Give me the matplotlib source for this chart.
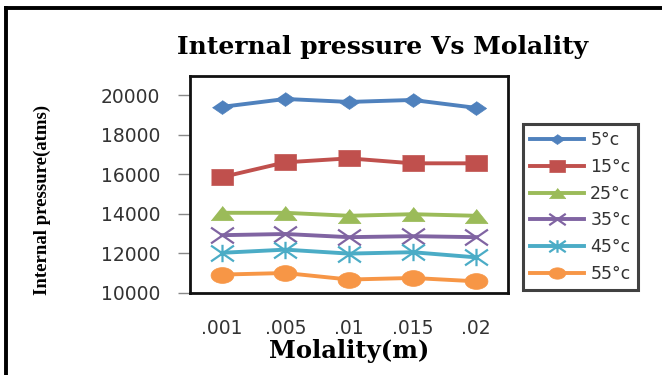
"""
Internal pressure of the solution against molality at six temperatures.
"""

import matplotlib
matplotlib.use('Agg')
import matplotlib.pyplot as plt
import numpy as np
from matplotlib.lines import Line2D
from matplotlib.path import Path

# Data
# ------------------------------------------------------------------------------

molality = ['.001', '.005', '.01', '.015', '.02']
temps = ['5°c', '15°c', '25°c', '35°c', '45°c', '55°c']

p_5 = [19400, 19800, 19650, 19750, 19350]
p_15 = [15850, 16600, 16800, 16550, 16550]
p_25 = [14050, 14050, 13900, 13980, 13900]
p_35 = [12920, 12980, 12820, 12870, 12820]
p_45 = [12030, 12190, 11990, 12060, 11800]
p_55 = [10930, 11010, 10680, 10760, 10590]

series = [p_5, p_15, p_25, p_35, p_45, p_55]

# Markers (the source picture is stretched sideways, so are the markers)
# ------------------------------------------------------------------------------

sx = 1.45
t = np.linspace(0, 2 * np.pi, 40)
diamond = [(0, 1), (sx, 0), (0, -1), (-sx, 0)]
square = [(-1.35, -1), (1.35, -1), (1.35, 1), (-1.35, 1)]
triangle = [(-1.6, -1), (1.6, -1), (0, 1)]
ellipse = list(zip(sx * np.cos(t), np.sin(t)))
cross = Path([(-sx, -1), (sx, 1), (-sx, 1), (sx, -1)],
             [Path.MOVETO, Path.LINETO, Path.MOVETO, Path.LINETO])
star = Path([(-sx, -1), (sx, 1), (-sx, 1), (sx, -1), (0, -1.1), (0, 1.1)],
            [Path.MOVETO, Path.LINETO, Path.MOVETO, Path.LINETO,
             Path.MOVETO, Path.LINETO])

colors = ['#4F81BD', '#C0504D', '#9BBB59', '#8064A2', '#4BACC6', '#F79646']
markers = [diamond, square, triangle, cross, star, ellipse]
msizes = [14.5, 16.5, 16.5, 16.5, 16.5, 16.5]

# Plot
# ------------------------------------------------------------------------------

fig = plt.figure(figsize=(6.62, 3.75), dpi=100)
ax = fig.add_axes([190 / 662, 1 - 293 / 375, 318 / 662, 217 / 375])

x = np.arange(len(molality))
for vals, lab, c, m, ms in zip(series, temps, colors, markers, msizes):
    line_marker = m in (cross, star)
    ax.plot(x, vals, color=c, lw=2.8, marker=m, ms=ms, label=lab,
            mfc=c, mec=c, mew=1.6 if line_marker else 0.5)

ax.set_xlim(-0.5, 4.5)
ax.set_ylim(10000, 20960)
ax.set_yticks([10000, 12000, 14000, 16000, 18000, 20000])
ax.set_xticks(x)
ax.set_xticklabels(molality)

for sp in ax.spines.values():
    sp.set_linewidth(2.0)
    sp.set_color('#111111')

ax.tick_params(axis='y', direction='out', length=8.5, width=1, color='#888888',
               pad=13, labelsize=13.5, labelcolor='#333333')
ax.tick_params(axis='x', length=0, pad=19, labelsize=13.5,
               labelcolor='#333333')
for lbl in ax.get_xticklabels() + ax.get_yticklabels():
    lbl.set_family('DejaVu Sans')

ax.set_xlabel('Molality(m)', fontsize=17.5, fontweight='bold',
              family='DejaVu Serif', labelpad=0.5)

fig.text(383 / 662, 1 - 47 / 375, 'Internal pressure Vs Molality',
         ha='center', va='center', fontsize=18, fontweight='bold',
         family='DejaVu Serif')
fig.text(42 / 662, 1 - 200 / 375, 'Internal pressure(atms)', rotation=90,
         ha='center', va='center', fontsize=13.5, fontweight='bold',
         family='Liberation Serif')

leg = ax.legend(loc='upper left', bbox_to_anchor=(523 / 662, 1 - 124 / 375),
                bbox_transform=fig.transFigure, fontsize=12.5, markerscale=0.72,
                handlelength=3.1, handletextpad=0.35, labelspacing=0.5,
                borderpad=0.42, borderaxespad=0, fancybox=False, frameon=True)
leg.get_frame().set_edgecolor('#111111')
leg.get_frame().set_linewidth(2.2)
for txt in leg.get_texts():
    txt.set_color('#333333')

# border round the whole chart, cut at right and bottom
fig.add_artist(Line2D([6 / 662, 6 / 662], [0, 1 - 8 / 375], color='black',
                      lw=2.8, transform=fig.transFigure))
fig.add_artist(Line2D([6 / 662, 1], [1 - 8 / 375, 1 - 8 / 375], color='black',
                      lw=2.8, transform=fig.transFigure))

fig.savefig('out.png', dpi=100)
